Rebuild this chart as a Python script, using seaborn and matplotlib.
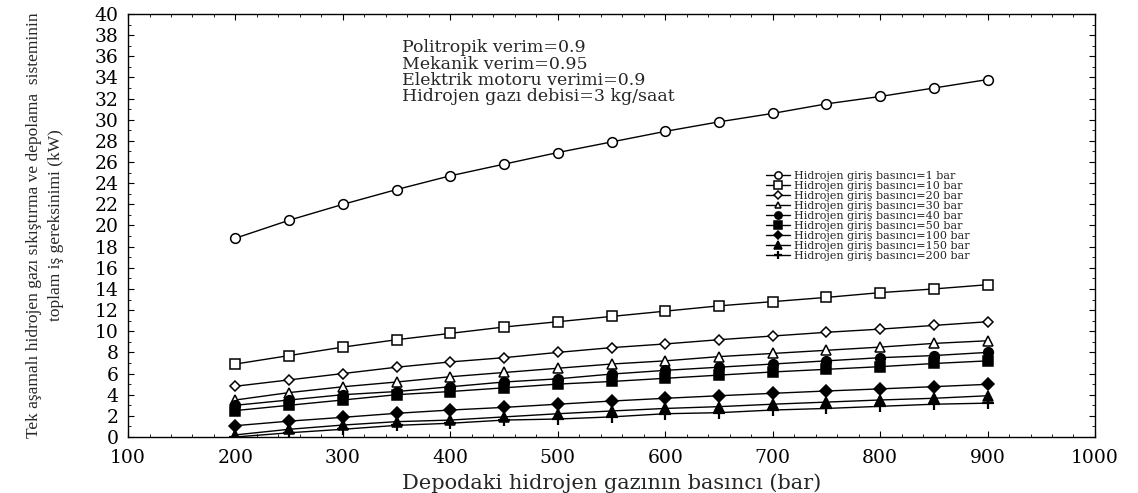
import numpy as np
import pandas as pd
import matplotlib
matplotlib.use("Agg")
import matplotlib.pyplot as plt
from matplotlib.ticker import MultipleLocator
import seaborn as sns

sns.set_style("ticks")
plt.rcParams['font.family'] = ['DejaVu Serif', 'Liberation Serif']

# storage pressure (bar)
depo_basinc = [200, 250, 300, 350, 400, 450, 500, 550, 600, 650, 700, 750, 800, 850, 900]

# total work requirement (kW) for each inlet pressure
p1 = [18.8, 20.5, 22.0, 23.4, 24.7, 25.8, 26.9, 27.9, 28.9, 29.8, 30.6, 31.5, 32.2, 33.0, 33.8]
p10 = [6.9, 7.7, 8.5, 9.2, 9.8, 10.4, 10.9, 11.4, 11.9, 12.4, 12.8, 13.2, 13.65, 14.0, 14.4]
p20 = [4.8, 5.4, 6.0, 6.6, 7.1, 7.5, 8.0, 8.45, 8.8, 9.2, 9.55, 9.9, 10.2, 10.55, 10.9]
p30 = [3.5, 4.2, 4.75, 5.2, 5.7, 6.1, 6.5, 6.9, 7.2, 7.6, 7.9, 8.2, 8.5, 8.85, 9.1]
p40 = [3.0, 3.5, 4.0, 4.3, 4.75, 5.2, 5.5, 5.95, 6.3, 6.6, 6.9, 7.2, 7.5, 7.7, 8.0]
p50 = [2.5, 3.0, 3.5, 4.0, 4.3, 4.65, 5.0, 5.25, 5.55, 5.85, 6.15, 6.4, 6.65, 6.95, 7.2]
p100 = [1.07, 1.5, 1.86, 2.24, 2.55, 2.8, 3.1, 3.4, 3.66, 3.9, 4.13, 4.35, 4.55, 4.76, 4.98]
p150 = [0.2, 0.73, 1.13, 1.45, 1.6, 1.9, 2.2, 2.46, 2.7, 2.87, 3.1, 3.3, 3.5, 3.66, 3.9]
p200 = [0.0, 0.4, 0.73, 1.1, 1.3, 1.6, 1.7, 1.9, 2.2, 2.3, 2.55, 2.7, 2.9, 3.1, 3.2]

seriler = [
    ("Hidrojen giriş basıncı=1 bar", p1, "o", False, 7),
    ("Hidrojen giriş basıncı=10 bar", p10, "s", False, 7),
    ("Hidrojen giriş basıncı=20 bar", p20, "D", False, 5.5),
    ("Hidrojen giriş basıncı=30 bar", p30, "^", False, 6.5),
    ("Hidrojen giriş basıncı=40 bar", p40, "o", True, 7),
    ("Hidrojen giriş basıncı=50 bar", p50, "s", True, 7),
    ("Hidrojen giriş basıncı=100 bar", p100, "D", True, 6),
    ("Hidrojen giriş basıncı=150 bar", p150, "^", True, 7),
    ("Hidrojen giriş basıncı=200 bar", p200, "+", True, 8),
]

fig = plt.figure(figsize=(11.38, 4.93), dpi=100)
ax = fig.add_axes([0.1125, 0.1136, 0.8497, 0.858])

for etiket, degerler, mk, dolu, ms in seriler:
    df = pd.DataFrame({"x": depo_basinc, "y": degerler})
    sns.lineplot(data=df, x="x", y="y", ax=ax, color="black", lw=1.0,
                 marker=mk, markersize=ms,
                 markerfacecolor="black" if dolu else "white",
                 markeredgecolor="black", markeredgewidth=1.6 if mk == "+" else 1.1,
                 label=etiket)

ax.set_xlim(100, 1000)
ax.set_ylim(0, 40)
ax.xaxis.set_major_locator(MultipleLocator(100))
ax.xaxis.set_minor_locator(MultipleLocator(20))
ax.yaxis.set_major_locator(MultipleLocator(2))
ax.yaxis.set_minor_locator(MultipleLocator(1))
ax.tick_params(which="both", direction="in", top=True, right=True, labelsize=13.5,
               colors="black")
ax.tick_params(axis="x", which="major", pad=9)
ax.tick_params(axis="y", which="major", pad=7)
ax.tick_params(which="major", length=4)
ax.tick_params(which="minor", length=2)
for s in ax.spines.values():
    s.set_linewidth(1.0)
    s.set_color("black")

ax.set_xlabel("Depodaki hidrojen gazının basıncı (bar)", fontsize=15, labelpad=4)
ax.set_ylabel("Tek aşamalı hidrojen gazı sıkıştırma ve depolama  sisteminin\n"
              "toplam iş gereksinimi (kW)", fontsize=12.5, labelpad=22,
              linespacing=1.5, family=['Liberation Serif', 'DejaVu Serif'])

ax.text(0.283, 0.94, "Politropik verim=0.9\nMekanik verim=0.95\n"
        "Elektrik motoru verimi=0.9\nHidrojen gazı debisi=3 kg/saat",
        transform=ax.transAxes, fontsize=12.5, va="top", ha="left", linespacing=0.95)

ax.legend(loc="upper left", bbox_to_anchor=(0.655, 0.64), frameon=False,
          fontsize=8, labelspacing=0.0, handlelength=2.2, handletextpad=0.3,
          borderaxespad=0, markerscale=0.75)

fig.savefig("out.png", dpi=100)
